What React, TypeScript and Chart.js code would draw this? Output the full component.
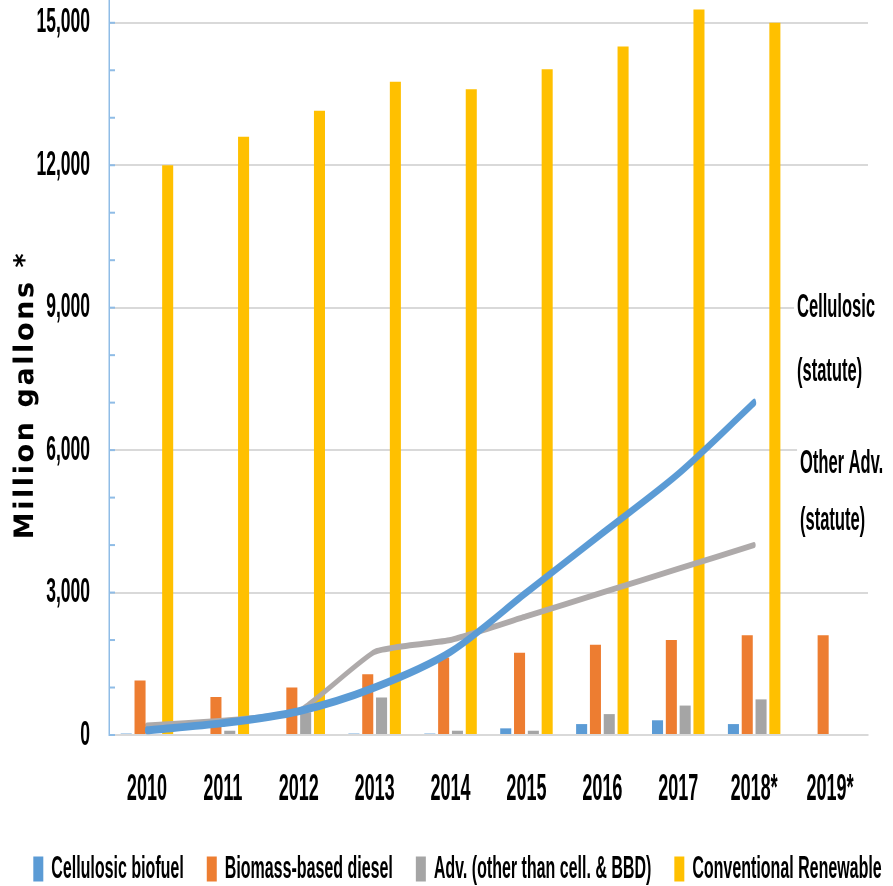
import { useEffect, useRef } from 'react';
import { Chart, registerables } from 'chart.js';

Chart.register(...registerables);

// ---- data (million gallons) ----
const years = ['2010', '2011', '2012', '2013', '2014', '2015', '2016', '2017', '2018*', '2019*'];
const cellulosicBiofuel = [30, 0, 0, 30, 30, 140, 230, 310, 230, 0];
const biomassDiesel = [1150, 800, 1000, 1280, 1630, 1730, 1900, 2000, 2100, 2100];
const otherAdvanced = [0, 90, 480, 790, 90, 90, 440, 620, 750, 0];
const conventional = [12000, 12600, 13150, 13760, 13600, 14020, 14500, 15280, 15000, null];
const cellulosicStatute = [100, 250, 500, 1000, 1750, 3000, 4250, 5500, 7000, null];
const otherAdvStatute = [200, 300, 500, 1750, 2000, 2500, 3000, 3500, 4000, null];
const yMajorTicks = [0, 3000, 6000, 9000, 12000, 15000];
const yMinorStep = 1000;
const yTop = 15480;

const seriesLabels = [
  'Cellulosic biofuel',
  'Biomass-based diesel',
  'Adv. (other than cell. & BBD)',
  'Conventional Renewable',
];
const statuteLabels = [
  ['Cellulosic', '(statute)'],
  ['Other Adv.', '(statute)'],
];
const axisTitle = 'Million gallons *';

// ---- layout ----
const SQUEEZE = 0.5; // whole drawing is condensed horizontally
const W = 893 / SQUEEZE;
const H = 895;
const FONT = '"Liberation Sans", Arial, sans-serif';

const decorations = {
  id: 'decorations',
  beforeDatasetsDraw(chart: any) {
    const { ctx, chartArea, scales } = chart;
    const y = scales.y;
    ctx.save();
    ctx.strokeStyle = '#8FBCE6';
    ctx.lineWidth = 2;
    for (let v = 0; v <= 15000; v += yMinorStep) {
      const py = y.getPixelForValue(v);
      ctx.beginPath();
      ctx.moveTo(chartArea.left, py);
      ctx.lineTo(chartArea.left + 12, py);
      ctx.stroke();
    }
    ctx.restore();
  },
  afterDatasetsDraw(chart: any) {
    const { ctx, chartArea, scales } = chart;
    const x = scales.x;
    const y = scales.y;
    const anchorX = x.getPixelForValue(9);
    const blocks = [
      { left: anchorX - 66, top: y.getPixelForValue(9000), gap: 64, lines: statuteLabels[0] },
      { left: anchorX - 60, top: y.getPixelForValue(5700), gap: 57, lines: statuteLabels[1] },
    ];
    ctx.save();
    ctx.font = `bold 33px ${FONT}`;
    ctx.textBaseline = 'middle';
    ctx.textAlign = 'left';
    blocks.forEach((b) => {
      b.lines.forEach((t, i) => {
        const cy = b.top + i * b.gap;
        const w = ctx.measureText(t).width;
        ctx.fillStyle = '#ffffff';
        ctx.fillRect(b.left - 6, cy - 22, Math.max(w + 12, chartArea.right - b.left + 10), 44);
        ctx.fillStyle = '#000000';
        ctx.fillText(t, b.left, cy);
      });
    });
    ctx.restore();
  },
  afterDraw(chart: any) {
    const { ctx } = chart;
    ctx.save();
    ctx.translate(33 / SQUEEZE, 395);
    ctx.scale(1 / SQUEEZE, 1);
    ctx.rotate(-Math.PI / 2);
    ctx.font = 'bold 27px "DejaVu Sans", sans-serif';
    (ctx as any).letterSpacing = '2.6px';
    ctx.fillStyle = '#000000';
    ctx.textAlign = 'center';
    ctx.textBaseline = 'alphabetic';
    ctx.fillText(axisTitle, 0, 0);
    ctx.restore();
  },
};

export default function App() {
  const canvasRef = useRef<HTMLCanvasElement>(null);

  useEffect(() => {
    const canvas = canvasRef.current;
    if (!canvas) return;
    const barBase = { borderWidth: 0, order: 2, barPercentage: 0.8, categoryPercentage: 0.728 };
    const chart = new Chart(canvas, {
      type: 'bar',
      data: {
        labels: years,
        datasets: [
          {
            type: 'line',
            label: 'Cellulosic (statute)',
            data: cellulosicStatute,
            borderColor: '#5B9BD5',
            backgroundColor: '#5B9BD5',
            borderWidth: 8,
            tension: 0.3,
            pointRadius: 0,
            borderCapStyle: 'round',
            borderJoinStyle: 'round',
            fill: false,
            order: 0,
          } as any,
          {
            type: 'line',
            label: 'Other Adv. (statute)',
            data: otherAdvStatute,
            borderColor: '#AEAAAA',
            backgroundColor: '#AEAAAA',
            borderWidth: 6,
            tension: 0.15,
            pointRadius: 0,
            borderCapStyle: 'round',
            borderJoinStyle: 'round',
            fill: false,
            order: 1,
          } as any,
          { ...barBase, label: seriesLabels[0], data: cellulosicBiofuel, backgroundColor: '#5B9BD5' },
          { ...barBase, label: seriesLabels[1], data: biomassDiesel, backgroundColor: '#ED7D31' },
          { ...barBase, label: seriesLabels[2], data: otherAdvanced, backgroundColor: '#A5A5A5' },
          { ...barBase, label: seriesLabels[3], data: conventional, backgroundColor: '#FFC000' },
        ] as any,
      },
      options: {
        responsive: false,
        animation: false,
        devicePixelRatio: 1,
        // the legend row runs a little past the right edge so it sits right of centre
        layout: { padding: { left: 0, right: -44, top: 0, bottom: 0 } },
        plugins: {
          tooltip: { enabled: false },
          title: { display: false },
          legend: {
            position: 'bottom',
            labels: {
              filter: (item: any) => item.datasetIndex >= 2,
              color: '#000000',
              font: { family: FONT, size: 32, weight: 'bold' },
              boxWidth: 20,
              boxHeight: 25,
              padding: 46,
            },
          },
        },
        scales: {
          x: {
            offset: true,
            grid: { display: false, drawTicks: false },
            border: { display: true, color: '#D9D9D9', width: 2 },
            ticks: {
              color: '#000000',
              font: { family: FONT, size: 36, weight: 'bold' },
              padding: 33,
              maxRotation: 0,
              autoSkip: false,
            },
            afterFit: (s: any) => {
              s.height = 72;
              s.paddingLeft = 0;
              s.paddingRight = 0;
            },
          },
          y: {
            min: 0,
            max: yTop,
            afterBuildTicks: (s: any) => {
              s.ticks = yMajorTicks.map((v) => ({ value: v }));
            },
            grid: { color: '#D9D9D9', lineWidth: 2, drawTicks: false },
            border: { display: true, color: '#8FBCE6', width: 3 },
            ticks: {
              color: '#000000',
              font: { family: FONT, size: 35, weight: 'bold' },
              padding: 38,
              callback: (v: any) => Number(v).toLocaleString('en-US'),
            },
            afterFit: (s: any) => {
              s.width = 218;
              s.paddingTop = 0;
              s.paddingBottom = 0;
            },
          },
          // empty right-hand axis that only reserves the margin beside the plot
          gutter: {
            position: 'right',
            display: true,
            min: 0,
            max: yTop,
            grid: { display: false, drawTicks: false },
            border: { display: false },
            ticks: { display: false },
            afterFit: (s: any) => {
              s.width = 94;
              s.paddingTop = 0;
              s.paddingBottom = 0;
            },
          },
        },
      } as any,
      plugins: [decorations],
    });
    return () => chart.destroy();
  }, []);

  return (
    <div
      style={{
        position: 'fixed',
        left: 0,
        top: 0,
        width: 893,
        height: 886,
        overflow: 'hidden',
        background: '#ffffff',
      }}
    >
      <div style={{ width: W, height: H, transform: `scaleX(${SQUEEZE})`, transformOrigin: '0 0' }}>
        <canvas ref={canvasRef} width={W} height={H} style={{ display: 'block', width: W, height: H }} />
      </div>
    </div>
  );
}
